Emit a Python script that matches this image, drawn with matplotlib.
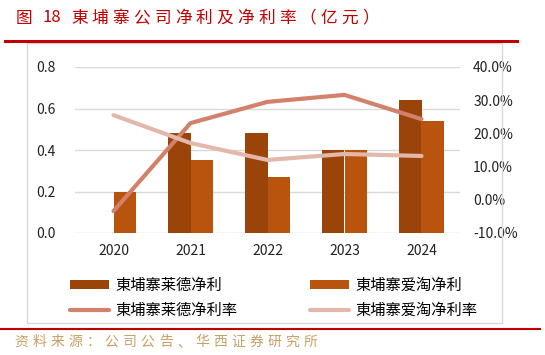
import matplotlib
matplotlib.use('Agg')
import matplotlib.pyplot as plt
import numpy as np
from matplotlib.patches import Rectangle
from matplotlib.lines import Line2D

plt.rcParams['font.family'] = ['Noto Sans CJK SC', 'DejaVu Sans']

years = ['2020', '2021', '2022', '2023', '2024']
laide_profit = [0.0, 0.48, 0.48, 0.40, 0.64]
aitao_profit = [0.20, 0.35, 0.27, 0.40, 0.54]
laide_margin = [-3.4, 23.1, 29.5, 31.6, 24.3]
aitao_margin = [25.5, 17.1, 12.0, 13.8, 13.2]

c_dark = '#9A4409'
c_orange = '#B8540E'
c_line1 = '#D2816A'
c_line2 = '#E3B8AA'

W, H = 545, 355
fig = plt.figure(figsize=(W / 100, H / 100), dpi=100)


def spaced_text(x, y, s, pitch, **kw):
    # draw one char at a time so the wide spacing of the original font is kept
    for i, ch in enumerate(s):
        fig.text((x + i * pitch) / W, 1 - y / H, ch, va='center', ha='left', **kw)


# outer frame and header/footer rules
fig.add_artist(Rectangle((27 / W, 1 - 323 / H), 475 / W, 280 / H,
                         transform=fig.transFigure, fill=False,
                         edgecolor='#D9D9D9', lw=1))
fig.add_artist(Line2D([5 / W, 517 / W], [1 - 41 / H] * 2,
                      transform=fig.transFigure, color='#C00000', lw=2.2))
fig.add_artist(Line2D([0, 540 / W], [1 - 329 / H] * 2,
                      transform=fig.transFigure, color='#C00000', lw=1.5))
fig.text(16 / W, 1 - 18 / H, '图', color='#C00000', fontsize=12, va='center', ha='left')
fig.text(42 / W, 1 - 18 / H, '18', color='#C00000', fontsize=12, va='center', ha='left')
spaced_text(71, 18, '東埔寨公司净利及净利率（亿元）', 20.8, color='#C00000', fontsize=12)
spaced_text(14, 342, '资料来源：公司公告、华西证券研究所', 18.1, color='#C8A064', fontsize=10)

ax = fig.add_axes([75 / W, 1 - 233 / H, 385 / W, 166 / H])
x = np.arange(len(years))
w = 0.29
b1 = ax.bar(x - w / 2, laide_profit, w, color=c_dark, zorder=2)
b2 = ax.bar(x + w / 2, aitao_profit, w, color=c_orange, zorder=2)
ax.set_ylim(0, 0.8)
ax.set_yticks([0, 0.2, 0.4, 0.6, 0.8])
ax.set_yticklabels(['%.1f' % v for v in [0, 0.2, 0.4, 0.6, 0.8]])
ax.set_xlim(-0.5, 4.5)
ax.set_xticks(x)
ax.set_xticklabels(years)
ax.grid(axis='y', color='#D9D9D9', lw=1, zorder=0)
ax.set_axisbelow(True)
for s in ax.spines.values():
    s.set_visible(False)
ax.tick_params(length=0, labelsize=10, colors='#222222')
ax.tick_params(axis='y', pad=14)
ax.tick_params(axis='x', pad=8)

ax2 = ax.twinx()
l1, = ax2.plot(x, laide_margin, color=c_line1, lw=3, zorder=3, solid_capstyle='round')
l2, = ax2.plot(x, aitao_margin, color=c_line2, lw=3, zorder=3, solid_capstyle='round')
ax2.set_ylim(-10, 40)
ax2.set_yticks([-10, 0, 10, 20, 30, 40])
ax2.set_yticklabels(['%.1f%%' % v for v in [-10, 0, 10, 20, 30, 40]])
for s in ax2.spines.values():
    s.set_visible(False)
ax2.tick_params(length=0, labelsize=10, colors='#222222', pad=9.5)

fig.legend([b1, l1, b2, l2],
           ['東埔寨莱德净利', '東埔寨莱德净利率', '東埔寨爱淘净利', '東埔寨爱淘净利率'],
           ncol=2, loc='center left', bbox_to_anchor=(70 / W, 1 - 298 / H),
           frameon=False, fontsize=11, handlelength=2.55, handleheight=0.5,
           columnspacing=4.8, handletextpad=0.4, labelspacing=0.55,
           borderpad=0, borderaxespad=0)

fig.savefig('out.png', dpi=100)
